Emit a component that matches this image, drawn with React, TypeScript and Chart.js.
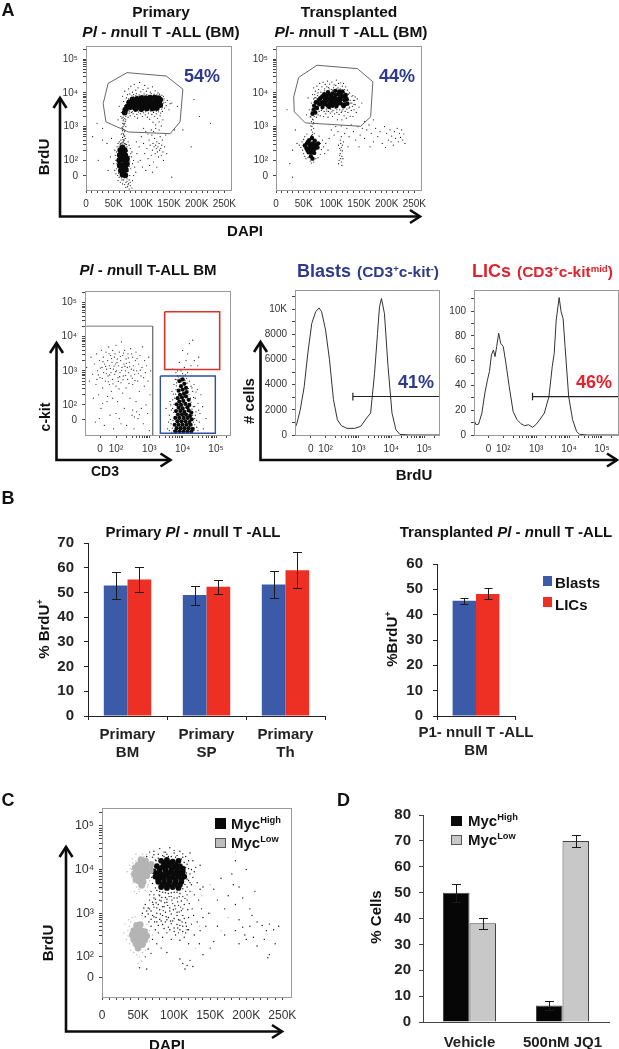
import React, { useEffect, useRef } from "react";
import { Chart, registerables } from "chart.js";
Chart.register(...registerables);

const FONT = "'Liberation Sans', Arial, sans-serif";
const BLUE = "#2e3a8c";
const RED = "#e2232e";

// ---------- bar data ----------
const primaryTissues = [["Primary", "BM"], ["Primary", "SP"], ["Primary", "Th"]];
const primaryBlasts = [52.8, 49, 53.2];
const primaryLics = [55.2, 52.3, 59];
const primaryBlastsErr = [[47.5, 58.1], [45, 52.7], [47.9, 58.5]];
const primaryLicsErr = [[50.2, 60.3], [49.5, 54.9], [51.8, 66.4]];
const transplantedTissue = [["P1- nnull T -ALL", "BM"]];
const transplantedBlasts = [45.5];
const transplantedLics = [48.2];
const transplantedBlastsErr = [[44.1, 46.7]];
const transplantedLicsErr = [[46.1, 50.7]];
const drugGroups = ["Vehicle", "500nM JQ1"];
const mycHigh = [50, 6.4];
const mycLow = [38.2, 70];
const mycHighErr = [[46.5, 53.5], [4.5, 8.3]];
const mycLowErr = [[36.1, 40.1], [67.7, 72.4]];

// ---------- axis ticks ----------
const dapiMajor = [0, 50, 100, 150, 200, 250];
const dapiLabels = ["0", "50K", "100K", "150K", "200K", "250K"];
const dapiMinor = [10, 20, 30, 40, 60, 70, 80, 90, 110, 120, 130, 140, 160, 170, 180, 190, 210, 220, 230, 240];
const logLabels = ["10²", "10³", "10⁴", "10⁵"];
const logMajor = [2, 3, 4, 5];
const logMinor = [2.3, 2.48, 2.6, 2.7, 2.78, 2.85, 2.9, 2.95, 3.3, 3.48, 3.6, 3.7, 3.78, 3.85, 3.9, 3.95, 4.3, 4.48, 4.6, 4.7, 4.78, 4.85, 4.9, 4.95, 5.3];

// ---------- gates ----------
const gateA1 = [74, 4.6, 145, 4.5, 175, 4.11, 170, 3.14, 152, 2.79, 77, 2.84, 36, 3.14, 31, 3.68, 40, 4.28, 74, 4.6];
const gateA2 = [74, 4.82, 147, 4.72, 175, 4.33, 171, 3.29, 153, 3.01, 53, 3.11, 33, 3.44, 32, 3.88, 41, 4.46, 74, 4.82];
const gateKitNeg = [1.0, 4.31, 3.1, 4.31, 3.1, 1.0];
const gateLic = [3.46, 4.73, 5.11, 4.73, 5.11, 3.04, 3.46, 3.04, 3.46, 4.73];
const gateBlast = [3.33, 2.85, 4.98, 2.85, 4.98, 1.17, 3.33, 1.17, 3.33, 2.85];

// ---------- histograms ----------
const blastsCurve = [1.07, 550, 1.13, 950, 1.23, 2000, 1.35, 3850, 1.46, 6500, 1.58, 8870, 1.7, 9800, 1.8, 10100, 1.88, 9800, 2, 8340, 2.12, 5970, 2.24, 2800, 2.36, 1210, 2.48, 740, 2.65, 530, 2.89, 530, 3.07, 690, 3.25, 1350, 3.37, 1740, 3.49, 4910, 3.58, 8080, 3.64, 10190, 3.7, 10850, 3.79, 9660, 3.9, 5440, 4.02, 1740, 4.14, 420, 4.26, 50, 4.56, 0, 5.45, 0];
const licsCurve = [1.11, 12.3, 1.17, 8.3, 1.25, 8.8, 1.35, 17.7, 1.44, 33.8, 1.52, 44.5, 1.58, 51.2, 1.64, 64.6, 1.7, 68.6, 1.75, 63.3, 1.8, 71.4, 1.86, 82.2, 1.92, 74.1, 2, 71.4, 2.08, 58, 2.18, 39.2, 2.3, 19, 2.42, 12.3, 2.54, 9.1, 2.65, 7.5, 2.77, 8.3, 2.89, 6.2, 2.99, 8.3, 3.11, 12.3, 3.25, 17.7, 3.39, 31, 3.49, 55.2, 3.55, 65.9, 3.61, 92.7, 3.7, 110.9, 3.76, 99.4, 3.82, 94, 3.88, 71.4, 3.99, 31, 4.11, 12.3, 4.23, 2.9, 4.32, 0.5, 4.56, 0, 5.49, 0];
const blastsMarker = [2.83, 3350, 2.83, 2750, 2.83, 3060, 5.45, 3060];
const licsMarker = [2.89, 34, 2.89, 28, 2.89, 31, 5.49, 31];

// ---------- A1 events (DAPI K, log10 BrdU) ----------
const a1Core = [70, 3.42, 72, 3.52, 75, 3.6, 78, 3.72, 80, 3.58, 84, 3.68, 87, 3.58, 90, 3.74, 93, 3.6, 96, 3.7, 99, 3.6, 102, 3.76, 105, 3.62, 108, 3.72, 111, 3.62, 114, 3.76, 117, 3.64, 120, 3.72, 123, 3.62, 126, 3.78, 129, 3.64, 132, 3.74, 134, 3.64, 134, 3.8, 84, 3.8, 92, 3.82, 100, 3.84, 108, 3.84, 116, 3.86, 124, 3.86, 131, 3.84, 90, 3.53, 100, 3.52, 110, 3.54, 120, 3.54, 128, 3.55, 62, 2.3, 66, 2.38, 70, 2.3, 61, 2.15, 66, 2.18, 71, 2.15, 60, 2.0, 65, 2.02, 70, 2.0, 74, 2.05, 61, 1.85, 66, 1.86, 71, 1.85, 74, 1.9, 63, 1.7, 68, 1.7, 72, 1.72, 66, 1.58, 71, 1.56];
const a1Dots = [63, 3.3, 66, 3.9, 68, 3.75, 70, 4.05, 72, 3.2, 73, 3.85, 75, 3.95, 76, 3.28, 77, 4.12, 78, 3.4, 79, 3.97, 80, 3.32, 81, 4.2, 82, 3.42, 83, 3.91, 84, 4.02, 85, 3.38, 86, 3.95, 87, 4.25, 88, 3.3, 89, 3.45, 90, 4.08, 91, 3.98, 92, 3.36, 93, 3.25, 94, 4.15, 95, 3.43, 96, 3.94, 97, 4.31, 98, 3.38, 99, 4.03, 100, 3.46, 101, 3.92, 102, 3.3, 103, 4.1, 104, 3.41, 105, 3.97, 106, 4.22, 107, 3.35, 108, 3.44, 109, 4.05, 110, 3.95, 111, 3.28, 112, 4.14, 113, 3.4, 114, 3.93, 115, 3.22, 116, 4.02, 117, 3.46, 118, 3.98, 119, 3.36, 120, 4.18, 121, 3.13, 122, 3.42, 123, 3.96, 124, 3.3, 125, 4.06, 126, 3.05, 127, 3.38, 128, 3.94, 129, 3.24, 130, 4.0, 131, 3.44, 132, 3.14, 133, 3.96, 134, 3.32, 135, 3.4, 136, 3.02, 137, 3.93, 138, 3.45, 139, 3.2, 140, 3.9, 142, 3.55, 143, 3.72, 145, 3.62, 147, 3.78, 150, 3.5, 152, 3.68, 60, 3.6, 58, 3.2,
  65, 3.25, 68, 3.2, 71, 3.15, 66, 3.1, 69, 3.05, 72, 3.0, 65, 2.98, 68, 2.92, 70, 2.85, 67, 2.8, 64, 2.78, 69, 2.72, 66, 2.68, 71, 2.65, 63, 2.6, 68, 2.58, 65, 2.52, 70, 2.5, 62, 2.48, 73, 2.47, 67, 3.0, 69, 2.9, 67, 2.62, 66, 2.88, 70, 3.1, 68, 2.76,
  52, 2.3, 54, 2.0, 50, 1.9, 55, 1.75, 53, 2.15, 56, 2.4, 57, 1.55, 54, 1.6, 52, 1.7, 58, 2.5, 60, 2.55, 80, 2.35, 82, 2.1, 84, 1.9, 81, 1.75, 79, 1.55, 83, 2.25, 86, 2.0, 88, 1.8, 78, 2.45, 76, 2.55, 58, 1.4, 62, 1.35, 66, 1.3, 70, 1.28, 74, 1.38, 77, 1.32, 80, 1.25, 83, 1.18, 78, 1.15, 75, 1.22, 72, 1.2, 68, 1.42, 64, 1.48, 84, 1.4, 86, 1.55, 90, 1.65, 92, 2.2, 94, 1.95, 96, 2.4, 91, 2.55, 44, 2.1, 40, 1.7, 38, 2.5, 30, 2.6, 46, 2.65,
  100, 2.7, 104, 2.5, 106, 2.2, 108, 2.85, 110, 2.35, 112, 2.05, 114, 2.6, 116, 2.45, 118, 2.15, 119, 2.75, 120, 2.3, 121, 2.5, 122, 1.95, 123, 2.4, 124, 2.65, 125, 2.2, 126, 2.45, 127, 2.35, 128, 2.55, 129, 2.25, 130, 2.4, 131, 2.1, 132, 2.5, 133, 2.3, 134, 2.7, 135, 2.35, 136, 2.15, 137, 2.45, 138, 2.6, 139, 2.25, 140, 2.0, 142, 2.4, 144, 2.75, 146, 2.2, 98, 2.0, 102, 1.8, 108, 1.7, 115, 1.85, 120, 1.65, 128, 1.8, 118, 2.9, 126, 2.95, 132, 2.9, 112, 2.78, 122, 2.85, 104, 2.95, 165, 3.6, 195, 3.8, 205, 3.3, 225, 3.1, 190, 2.4, 30, 2.95, 20, 3.1, 12, 2.7, 22, 2.0, 155, 1.5, 160, 2.9, 175, 2.9, 155, 3.7,
  72, 3.31, 88, 3.47, 105, 3.5, 121, 3.47, 97, 3.49, 131, 3.5, 76, 3.47, 113, 3.49, 84, 3.44, 127, 3.46, 93, 3.9, 74, 3.72, 108, 3.88, 125, 3.9, 81, 3.86, 136, 3.84, 99, 3.87, 118, 3.86, 140, 3.7, 138, 3.58, 141, 3.82, 68, 3.4, 66, 3.52, 70, 3.62, 67, 3.28, 73, 3.4, 69, 3.35, 64, 3.42, 90, 3.93, 103, 3.92, 115, 3.89, 129, 3.87, 86, 3.88, 77, 3.82, 134, 3.9, 110, 3.48, 101, 3.44, 79, 3.46, 95, 3.52, 124, 3.5, 137, 3.52, 139, 3.76, 67, 3.17, 70, 3.24, 68, 3.08, 66, 2.95, 70, 2.72, 69, 2.6, 67, 2.52,
  58, 2.2, 57, 2.05, 56, 1.9, 58, 1.8, 59, 1.62, 75, 2.28, 78, 2.12, 79, 1.98, 78, 1.82, 76, 1.68, 74, 1.55, 60, 2.42, 63, 2.5, 67, 2.55, 71, 2.48, 74, 2.4, 55, 2.25, 81, 2.2, 60, 1.5, 64, 1.55, 69, 1.48, 74, 1.45, 78, 1.42, 72, 1.35, 76, 1.28, 80, 1.35, 65, 1.42];

// ---------- A2 events ----------
const a2Core = [66, 3.38, 68, 3.5, 71, 3.42, 69, 3.62, 74, 3.55, 72, 3.72, 78, 3.66, 80, 3.84, 84, 3.58, 85, 3.74, 87, 3.96, 90, 3.66, 92, 3.84, 94, 4.02, 96, 3.58, 98, 3.76, 100, 3.94, 103, 3.68, 105, 3.86, 107, 4.06, 109, 3.6, 111, 3.78, 113, 3.96, 116, 3.7, 118, 3.88, 120, 4.04, 122, 3.6, 124, 3.78, 126, 3.94, 129, 3.68,
  75, 3.72, 78, 3.8, 82, 3.7, 88, 3.68, 91, 3.76, 94, 3.62, 97, 3.68, 100, 3.78, 102, 3.62, 106, 3.7, 108, 3.82, 112, 3.68, 114, 3.84, 117, 3.8, 120, 3.66, 122, 3.9, 125, 3.66, 126, 3.84, 128, 3.8, 90, 3.92, 96, 3.94, 102, 3.98, 108, 3.94, 114, 4.04, 118, 4.0, 83, 3.88, 88, 3.84, 94, 3.82, 100, 3.86, 106, 3.78,
  60, 2.6, 65, 2.66, 70, 2.58, 56, 2.5, 61, 2.48, 66, 2.5, 71, 2.46, 76, 2.5, 52, 2.44, 55, 2.36, 60, 2.36, 65, 2.36, 70, 2.34, 75, 2.38, 59, 2.24, 64, 2.24, 69, 2.22, 63, 2.12, 66, 2.05, 58, 2.55, 63, 2.42, 68, 2.42, 73, 2.42, 62, 2.3, 67, 2.28, 57, 2.3];
const a2Dots = [62, 3.3, 64, 3.7, 65, 3.5, 66, 3.95, 68, 4.15, 69, 3.3, 70, 3.85, 71, 4.05, 73, 3.28, 74, 4.2, 75, 3.92, 76, 3.35, 77, 4.1, 78, 3.45, 79, 4.28, 80, 3.32, 81, 4.02, 82, 3.48, 83, 4.18, 84, 3.9, 85, 4.32, 86, 3.3, 87, 3.45, 88, 4.12, 89, 4.25, 90, 3.38, 91, 3.52, 92, 4.18, 93, 4.35, 94, 3.28, 95, 3.45, 96, 4.12, 97, 4.26, 98, 3.4, 99, 3.52, 100, 4.1, 101, 4.32, 102, 3.3, 103, 3.48, 104, 4.15, 105, 4.24, 106, 3.38, 107, 3.55, 108, 4.22, 109, 4.38, 110, 3.42, 111, 3.2, 112, 4.15, 113, 4.28, 114, 3.36, 115, 3.5, 116, 4.12, 117, 4.3, 118, 3.42, 119, 3.2, 120, 4.2, 121, 3.5, 122, 4.28, 123, 3.32, 124, 4.1, 125, 3.45, 126, 4.18, 127, 3.25, 128, 3.9, 129, 4.08, 130, 3.42, 131, 3.8, 132, 3.55, 133, 4.0, 134, 3.3, 135, 3.7, 136, 3.48, 137, 3.9, 138, 3.6, 139, 3.3, 140, 3.78, 141, 3.5, 143, 3.65, 145, 3.42, 147, 3.82, 150, 3.58, 155, 3.7, 60, 3.5, 58, 3.85, 55, 3.35,
  63, 3.28, 66, 3.22, 64, 3.15, 67, 3.08, 65, 3.0, 68, 2.95, 64, 2.9, 66, 2.84, 68, 3.12, 63, 3.02, 66, 2.76, 69, 2.8, 64, 2.74, 67, 3.2,
  42, 2.45, 45, 2.38, 47, 2.55, 48, 2.3, 50, 2.2, 50, 2.62, 52, 2.7, 52, 2.12, 54, 2.05, 56, 2.78, 78, 2.72, 80, 2.5, 82, 2.32, 84, 2.6, 80, 2.18, 76, 2.08, 72, 2.05, 68, 1.95, 64, 1.92, 62, 1.98, 58, 2.08, 86, 2.4, 90, 2.5, 88, 2.2, 94, 2.3, 38, 2.5, 30, 2.3, 25, 1.9, 30, 1.5, 35, 2.9,
  113, 2.45, 115, 2.35, 117, 2.5, 116, 2.2, 118, 2.38, 119, 2.12, 120, 2.28, 117, 2.05, 114, 2.0, 118, 1.95, 120, 2.45, 116, 2.6, 113, 1.9, 119, 1.85, 115, 2.15, 121, 2.05, 117, 2.3, 122, 2.55, 118, 2.7,
  100, 2.9, 105, 2.75, 108, 3.0, 112, 2.85, 118, 3.02, 124, 2.8, 128, 2.95, 132, 2.7, 136, 3.05, 140, 2.85, 144, 2.6, 148, 3.0, 152, 2.75, 156, 2.95, 160, 2.65, 164, 2.9, 168, 3.05, 172, 2.8, 176, 2.55, 180, 2.95, 184, 2.7, 188, 2.85, 192, 2.5, 196, 3.0, 200, 2.8, 203, 2.6, 206, 2.9, 209, 2.72, 212, 2.45, 214, 2.85, 216, 2.65, 219, 2.95, 221, 2.55, 223, 2.8, 225, 2.68, 227, 2.9, 229, 2.6, 231, 2.78, 233, 2.5, 208, 2.55, 198, 2.38, 170, 2.4, 160, 3.15, 130, 2.4, 96, 2.65, 150, 2.4, 176, 3.2, 20, 3.5,
  83, 3.52, 92, 3.46, 101, 3.44, 110, 3.5, 119, 3.46, 128, 3.52, 76, 3.5, 72, 3.86, 76, 4.0, 82, 3.94, 88, 4.06, 95, 4.16, 102, 4.08, 110, 4.12, 116, 4.08, 124, 4.02, 131, 3.96, 134, 3.78, 133, 3.58, 130, 3.86, 137, 3.7, 70, 3.95, 74, 3.82, 68, 3.82, 66, 3.62, 64, 3.44, 139, 3.92, 141, 3.66, 142, 3.78, 143, 3.88];

// ---------- A3 events (log10 CD3, log10 c-kit) ----------
const a3Cloud = [1.12, 3.1, 1.2, 2.7, 1.25, 3.4, 1.3, 2.9, 1.32, 2.2, 1.35, 3.2, 1.38, 1.5, 1.4, 2.6, 1.42, 3.5, 1.45, 3.0, 1.48, 2.3, 1.5, 3.3, 1.52, 2.8, 1.55, 1.9, 1.56, 3.6, 1.58, 3.1, 1.6, 2.5, 1.62, 3.4, 1.63, 2.95, 1.65, 1.4, 1.66, 3.2, 1.68, 2.7, 1.7, 3.55, 1.72, 3.05, 1.73, 2.1, 1.75, 3.3, 1.76, 2.85, 1.78, 3.7, 1.8, 2.6, 1.8, 3.15, 1.82, 1.7, 1.84, 3.45, 1.85, 2.95, 1.86, 2.4, 1.88, 3.25, 1.9, 3.6, 1.9, 2.75, 1.92, 3.05, 1.93, 1.3, 1.95, 3.4, 1.96, 2.9, 1.98, 3.2, 2.0, 2.55, 2.0, 3.75, 2.02, 3.0, 2.04, 3.35, 2.05, 2.1, 2.06, 2.8, 2.08, 3.15, 2.1, 3.55, 2.1, 1.6, 2.12, 2.95, 2.14, 3.3, 2.15, 2.65, 2.16, 3.85, 2.18, 3.1, 2.2, 2.35, 2.2, 3.45, 2.22, 2.85, 2.24, 3.2, 2.25, 1.9, 2.26, 3.6, 2.28, 3.0, 2.3, 2.5, 2.3, 3.35, 2.32, 1.4, 2.34, 3.1, 2.35, 2.75, 2.36, 3.5, 2.38, 2.95, 2.4, 3.25, 2.42, 2.2, 2.44, 3.65, 2.45, 2.85, 2.46, 3.05, 2.48, 1.7, 2.5, 3.4, 2.5, 2.6, 2.52, 3.15, 2.54, 1.3, 2.56, 2.9, 2.58, 3.3, 2.6, 2.1, 2.6, 3.55, 2.62, 3.0, 2.65, 2.7, 2.66, 1.6, 2.68, 3.2, 2.7, 2.4, 2.72, 3.45, 2.75, 2.85, 2.76, 1.9, 2.78, 3.1, 2.8, 3.7, 2.82, 1.45, 2.85, 2.55, 2.86, 3.3, 2.88, 2.95, 2.9, 2.0, 2.92, 3.15, 2.95, 1.75, 2.96, 2.7, 2.98, 3.4, 3.0, 1.25, 3.02, 2.3, 3.04, 3.0, 2.5, 1.85, 2.55, 1.65, 2.62, 1.8, 2.7, 1.72, 1.75, 2.25, 1.9, 2.2, 1.6, 2.05, 1.5, 1.6, 2.15, 1.45, 2.0, 1.75,
  1.47, 2.88, 2.31, 3.22, 1.71, 2.92, 2.07, 2.69, 2.53, 3.02, 1.94, 3.14, 2.21, 2.74, 1.83, 3.07, 2.39, 2.63, 1.61, 3.27, 2.13, 3.42, 2.47, 3.5, 1.99, 2.98, 2.67, 2.93, 1.77, 2.68, 2.29, 2.87, 1.87, 3.36, 2.57, 2.72, 2.03, 3.24, 1.69, 3.13, 2.41, 3.12, 2.11, 2.83, 1.91, 2.62, 2.27, 3.13, 1.59, 2.78, 2.63, 3.36, 2.17, 3.01, 1.81, 2.88, 2.49, 2.78, 2.73, 3.02, 1.43, 2.75, 1.53, 3.08, 2.83, 2.8, 1.97, 3.5, 2.37, 3.38, 2.23, 3.52, 1.79, 3.5, 2.09, 2.47];
const a3Core = [3.9, 2.7, 4.0, 2.75, 4.05, 2.62, 3.95, 2.55, 4.1, 2.5, 3.88, 2.42, 4.0, 2.45, 4.12, 2.38, 3.92, 2.3, 4.04, 2.33, 3.85, 2.2, 3.98, 2.22, 4.1, 2.25, 4.18, 2.15, 3.9, 2.1, 4.02, 2.12, 3.82, 2.02, 3.95, 2.0, 4.08, 2.03, 4.2, 2.0, 3.88, 1.92, 4.0, 1.9, 4.14, 1.93, 3.8, 1.82, 3.93, 1.82, 4.05, 1.8, 4.18, 1.84, 4.26, 1.78, 3.86, 1.72, 3.98, 1.72, 4.1, 1.72, 4.22, 1.68, 3.78, 1.62, 3.9, 1.62, 4.03, 1.62, 4.15, 1.62, 4.27, 1.58, 3.84, 1.52, 3.96, 1.52, 4.08, 1.52, 4.2, 1.5, 3.76, 1.42, 3.88, 1.42, 4.0, 1.42, 4.12, 1.42, 4.24, 1.42, 3.82, 1.32, 3.94, 1.32, 4.06, 1.32, 4.18, 1.32, 4.3, 1.3, 3.78, 1.22, 3.9, 1.22, 4.02, 1.22, 4.14, 1.22, 4.26, 1.22];
const a3Halo = [3.55, 1.3, 3.6, 1.7, 3.62, 2.1, 3.65, 1.45, 3.68, 2.4, 3.7, 1.9, 3.72, 1.25, 3.74, 2.6, 3.75, 1.6, 3.76, 2.2, 3.78, 2.75, 3.8, 2.45, 3.82, 2.65, 3.84, 2.85, 3.7, 2.15, 3.66, 1.85, 3.58, 1.5, 3.5, 1.9, 4.3, 2.4, 4.32, 1.95, 4.34, 2.6, 4.36, 1.6, 4.38, 2.2, 4.4, 1.8, 4.42, 1.35, 4.44, 2.45, 4.46, 2.05, 4.5, 1.5, 4.52, 1.75, 4.55, 2.3, 4.6, 1.95, 4.62, 1.3, 4.7, 1.6, 4.25, 2.55, 4.2, 2.7, 4.12, 2.78, 3.95, 3.0, 4.05, 3.1, 4.1, 3.3, 4.15, 3.5, 4.2, 3.8, 4.3, 3.9, 4.35, 3.3, 3.85, 3.0, 3.7, 3.05, 4.0, 2.92, 4.45, 3.15, 3.9, 3.25, 4.0, 3.6, 4.25, 3.15, 4.48, 3.4, 3.8, 2.95, 4.15, 2.95, 4.08, 2.88, 3.92, 2.86,
  3.69, 1.32, 3.71, 1.55, 3.73, 1.78, 3.74, 2.02, 3.77, 1.28, 3.79, 2.32, 3.81, 2.56, 3.83, 2.74, 3.87, 2.82, 3.93, 2.78, 3.97, 2.68, 4.03, 2.85, 4.07, 2.72, 4.13, 2.64, 4.17, 2.48, 4.19, 2.3, 4.23, 2.2, 4.25, 2.08, 4.28, 1.88, 4.3, 1.7, 4.32, 1.5, 4.34, 1.26, 4.36, 1.42, 4.38, 1.7, 4.36, 1.96, 4.33, 2.22, 4.4, 2.38, 3.63, 1.58, 3.67, 1.2, 3.64, 2.0, 3.6, 1.25, 3.72, 2.32, 4.28, 2.5, 4.42, 1.55, 4.46, 1.25, 4.48, 1.85];

// ---------- C events ----------
const cHighCore = [82, 4.2, 90, 4.22, 98, 4.18, 106, 4.2, 76, 4.08, 84, 4.06, 92, 4.1, 100, 4.06, 108, 4.08, 72, 3.96, 80, 3.94, 88, 3.98, 96, 3.95, 104, 3.97, 112, 3.95, 74, 3.84, 82, 3.82, 90, 3.86, 98, 3.83, 106, 3.85, 114, 3.84, 78, 3.72, 86, 3.7, 94, 3.73, 102, 3.71, 110, 3.72, 82, 3.6, 90, 3.58, 98, 3.6, 106, 3.58,
  86, 4.14, 94, 4.14, 102, 4.12, 80, 4.02, 88, 4.04, 96, 4.02, 104, 4.02, 112, 4.02, 76, 3.9, 84, 3.88, 92, 3.92, 100, 3.9, 108, 3.91, 78, 3.78, 86, 3.77, 94, 3.79, 102, 3.77, 110, 3.78, 84, 3.65, 92, 3.65, 100, 3.65, 108, 3.65];
const cLowTopCore = [54, 4.22, 60, 4.2, 50, 4.1, 56, 4.08, 62, 4.1, 68, 4.12, 49, 3.98, 55, 3.96, 61, 3.98, 67, 3.97, 50, 3.86, 56, 3.84, 62, 3.86, 51, 3.74, 57, 3.72, 55, 3.64, 46, 4.04, 45, 3.9, 47, 3.78];
const cLowBottomCore = [48, 2.72, 53, 2.74, 44, 2.6, 49, 2.62, 54, 2.6, 59, 2.58, 42, 2.5, 47, 2.5, 52, 2.5, 57, 2.5, 62, 2.48, 44, 2.4, 49, 2.4, 54, 2.4, 59, 2.38, 47, 2.3, 52, 2.3, 56, 2.28, 50, 2.2];
const cHighDots = [62, 4.3, 66, 4.4, 70, 4.28, 72, 4.42, 75, 4.2, 78, 4.35, 80, 4.48, 84, 4.32, 86, 4.4, 90, 4.35, 94, 4.5, 96, 4.3, 100, 4.38, 104, 4.32, 108, 4.42, 112, 4.28, 116, 4.3, 118, 4.12, 120, 4.02, 122, 3.9, 120, 3.75, 124, 3.65, 118, 3.6, 116, 3.5, 122, 3.5, 126, 3.82, 128, 3.95, 132, 3.7, 136, 3.55, 128, 3.42, 134, 3.3, 140, 3.6, 126, 4.2, 122, 4.38, 136, 4.1, 130, 4.05,
  68, 3.5, 72, 3.42, 76, 3.52, 80, 3.4, 84, 3.48, 88, 3.36, 92, 3.45, 96, 3.38, 100, 3.48, 104, 3.35, 108, 3.45, 112, 3.38, 66, 3.3, 70, 3.25, 74, 3.32, 78, 3.2, 82, 3.28, 86, 3.15, 90, 3.25, 94, 3.12, 98, 3.22, 102, 3.1, 106, 3.18, 110, 3.06, 114, 3.2, 118, 3.3, 60, 3.2, 64, 3.12, 68, 3.05, 72, 3.14, 76, 3.0, 80, 3.08, 84, 2.95, 88, 3.02, 92, 2.9, 96, 2.98, 100, 2.88, 104, 2.95, 108, 2.84, 112, 2.95, 116, 2.78, 120, 2.9, 56, 3.0, 60, 2.92, 64, 2.98, 68, 2.86, 72, 2.92, 76, 2.8, 80, 2.86, 84, 2.74, 88, 2.8, 92, 2.68, 96, 2.76, 100, 2.66, 104, 2.74, 108, 2.62, 112, 2.7, 116, 2.55, 120, 2.62, 124, 2.75, 128, 2.5, 132, 2.8, 136, 2.6, 140, 2.9, 144, 2.7, 148, 3.0, 138, 3.1, 68, 2.7, 74, 2.62, 78, 2.55, 84, 2.45, 90, 2.55, 96, 2.4, 102, 2.5, 108, 2.38, 114, 2.45, 120, 2.3, 70, 2.4, 76, 2.3, 82, 2.2, 90, 2.1, 64, 2.18, 68, 2.08, 60, 2.0, 52, 1.75, 62, 1.72, 108, 1.95, 112, 1.85, 118, 1.8, 122, 1.92, 126, 1.78, 115, 1.72,
  155, 3.55, 160, 3.3, 165, 3.8, 170, 3.1, 175, 3.4, 180, 3.9, 182, 3.65, 185, 3.2, 190, 3.6, 195, 3.35, 200, 4.0, 205, 3.1, 208, 2.95, 212, 3.5, 185, 2.6, 190, 2.85, 195, 2.68, 198, 2.5, 205, 2.7, 210, 2.45, 215, 2.8, 222, 2.72, 228, 2.6, 232, 2.75, 238, 2.62, 245, 2.7, 240, 2.3, 232, 2.05, 230, 1.98, 225, 2.4, 215, 2.25, 200, 2.4, 190, 2.3, 170, 2.5, 155, 2.35, 150, 2.2, 185, 4.2, 160, 2.7, 135, 2.3, 140, 2.05,
  70, 4.15, 74, 4.22, 78, 4.26, 86, 4.3, 92, 4.3, 102, 4.28, 110, 4.24, 114, 4.16, 116, 4.05, 117, 3.92, 118, 3.78, 115, 3.66, 112, 3.56, 104, 3.48, 96, 3.47, 88, 3.47, 80, 3.5, 74, 3.58, 70, 3.68, 69, 3.82, 68, 3.95, 69, 4.05, 72, 4.34, 88, 4.4, 100, 4.44, 112, 4.36, 120, 4.2, 124, 4.0, 122, 3.7, 118, 3.42, 110, 3.28, 100, 3.35, 90, 3.32, 80, 3.3, 72, 3.35, 66, 3.42, 84, 3.15, 94, 3.05, 104, 3.02, 112, 3.1, 76, 3.12, 70, 2.95, 82, 2.82, 90, 2.85, 98, 2.82, 106, 2.85, 114, 2.88, 108, 2.72, 100, 2.58, 94, 2.62, 86, 2.65, 78, 2.72, 73, 2.8, 66, 3.1, 62, 3.05, 58, 3.12, 118, 2.62, 112, 2.58, 106, 2.55, 83, 3.36, 93, 3.38, 107, 3.38, 87, 3.24, 97, 3.3, 105, 3.26, 75, 3.24, 79, 3.42, 91, 3.18, 101, 3.17, 109, 3.14, 115, 3.34, 121, 3.22, 125, 3.1, 119, 3.08, 85, 3.06, 75, 2.9, 89, 2.92, 99, 3.08, 107, 3.03, 65, 2.8, 71, 3.2, 81, 2.98, 95, 2.82, 111, 2.8, 105, 2.66, 117, 2.7, 127, 2.95];
const cLowDots = [38, 4.1, 40, 3.9, 42, 4.25, 43, 3.7, 44, 4.05, 45, 3.5, 46, 3.85, 47, 4.35, 48, 3.6, 52, 3.5, 56, 4.35, 60, 3.52, 62, 4.35, 64, 3.65, 70, 4.3, 35, 3.95, 30, 2.55, 32, 2.75, 34, 2.4, 36, 2.6, 37, 2.85, 38, 2.3, 40, 2.8, 40, 2.15, 42, 2.9, 44, 2.1, 46, 2.92, 48, 2.05, 52, 2.0, 55, 2.95, 56, 2.1, 60, 2.15, 62, 2.75, 66, 2.6, 66, 2.35, 70, 2.5, 50, 1.85, 55, 1.9, 130, 2.2, 135, 2.7, 150, 3.0, 165, 2.6, 125, 3.5, 138, 3.4, 150, 3.65, 185, 4.4, 175, 2.9,
  41, 4.0, 43, 4.15, 45, 3.95, 44, 3.8, 46, 3.7, 47, 4.2, 41, 3.82, 39, 4.02, 48, 3.45, 51, 3.55, 53, 4.3, 58, 4.3, 64, 4.22, 66, 3.75, 63, 3.6, 36, 2.48, 38, 2.7, 39, 2.55, 41, 2.36, 60, 2.28, 63, 2.62, 64, 2.42];

const pts = (flat: number[]) => {
  const out: { x: number; y: number }[] = [];
  for (let i = 0; i + 1 < flat.length; i += 2) out.push({ x: flat[i], y: flat[i + 1] });
  return out;
};

type Rect = { l: number; t: number; r: number; b: number };

const marginL = 56;
const marginT = 8;
const marginR = 40;
const marginB = 56;

const frameBox = (p: Rect) => ({
  left: p.l - marginL,
  top: p.t - marginT,
  width: p.r - p.l + marginL + marginR,
  height: p.b - p.t + marginT + marginB,
});

function baseOptions(x: any, y: any) {
  const noPad = (s: any) => {
    s.paddingLeft = 0;
    s.paddingRight = 0;
    s.paddingTop = 0;
    s.paddingBottom = 0;
  };
  return {
    responsive: false,
    animation: false,
    maintainAspectRatio: false,
    layout: { autoPadding: false, padding: { top: marginT, right: marginR, left: 0, bottom: 0 } },
    plugins: { legend: { display: false }, title: { display: false }, tooltip: { enabled: false } },
    scales: {
      x: { ...x, afterFit: (s: any) => { s.height = marginB; noPad(s); } },
      y: { ...y, afterFit: (s: any) => { s.width = marginL; noPad(s); } },
    },
  };
}

function flowAxis(min: number, max: number, major: number[], minor: number[], labels: string[], fontSize: number, pad: number) {
  return {
    type: "linear",
    min,
    max,
    afterBuildTicks: (s: any) => {
      s.ticks = [...major, ...minor].sort((a, b) => a - b).map((value) => ({ value }));
    },
    ticks: {
      autoSkip: false,
      maxRotation: 0,
      padding: pad,
      color: "#333",
      font: { family: FONT, size: fontSize },
      callback: (v: number) => {
        const i = major.indexOf(v);
        return i >= 0 ? labels[i] : "";
      },
    },
    grid: { drawOnChartArea: false, tickLength: 3, color: "#444", tickWidth: 1 },
    border: { color: "#888" },
  };
}

const framePlugin = (color: string) => ({
  id: "frame",
  afterDatasetsDraw(chart: any) {
    const { ctx, chartArea: a } = chart;
    ctx.save();
    ctx.strokeStyle = color;
    ctx.lineWidth = 1;
    ctx.strokeRect(Math.round(a.left) + 0.5, Math.round(a.top) + 0.5, Math.round(a.right - a.left), Math.round(a.bottom - a.top));
    ctx.restore();
  },
});

const errorPlugin = (errs: number[][][], capHalf: number) => ({
  id: "errors",
  afterDatasetsDraw(chart: any) {
    const { ctx } = chart;
    const yS = chart.scales.y;
    ctx.save();
    ctx.strokeStyle = "#1a1a1a";
    ctx.lineWidth = 1;
    errs.forEach((set, d) => {
      const meta = chart.getDatasetMeta(d);
      set.forEach(([lo, hi], i) => {
        const x = Math.round(meta.data[i].x) + 0.5;
        const y0 = Math.round(yS.getPixelForValue(lo)) + 0.5;
        const y1 = Math.round(yS.getPixelForValue(hi)) + 0.5;
        ctx.beginPath();
        ctx.moveTo(x, y0);
        ctx.lineTo(x, y1);
        ctx.moveTo(x - capHalf, y0);
        ctx.lineTo(x + capHalf, y0);
        ctx.moveTo(x - capHalf, y1);
        ctx.lineTo(x + capHalf, y1);
        ctx.stroke();
      });
    });
    ctx.restore();
  },
});

const dots = (flat: number[], color = "#111", radius = 0.6, order = 2) => ({
  data: pts(flat),
  backgroundColor: color,
  pointRadius: radius,
  borderWidth: 0,
  pointBorderWidth: 0,
  order,
});
const line = (flat: number[], color = "#666", width = 1) => ({
  data: pts(flat),
  showLine: true,
  tension: 0,
  pointRadius: 0,
  borderColor: color,
  borderWidth: width,
  fill: false,
  order: 0,
});

const barAxisX = (labels: any, pad: number, color = "#222", tick = 4) => ({
  type: "category",
  labels,
  ticks: { color: "#222", padding: pad, maxRotation: 0, font: { family: FONT, size: 15, weight: "bold" } },
  grid: { drawOnChartArea: false, tickLength: tick, color, offset: true },
  border: { color, width: 1 },
});
const barAxisY = (max: number, step: number, color = "#222", pad = 10) => ({
  type: "linear",
  min: 0,
  max,
  ticks: { stepSize: step, color: "#222", padding: pad, font: { family: FONT, size: 15, weight: "bold" } },
  grid: { drawOnChartArea: false, tickLength: 4, color },
  border: { color, width: 1 },
});

const bar = (data: number[], color: string, border?: string, cat = 0.6) => ({
  data,
  backgroundColor: color,
  borderColor: border ?? color,
  borderWidth: border ? 1 : 0,
  categoryPercentage: cat,
  barPercentage: 1,
});

type Spec = { rect: Rect; config: () => any };

const flowDapi = (datasets: any[], size = 10, pad = 5, ymin = 1.12, ymax = 5.39, zero = 1.54, ySize = 10) => ({
  type: "scatter",
  data: { datasets },
  options: baseOptions(
    flowAxis(0, 262, dapiMajor, dapiMinor, dapiLabels, size, pad),
    flowAxis(ymin, ymax, [zero, ...logMajor], logMinor, ["0", ...logLabels], ySize, 5)
  ),
  plugins: [framePlugin("#999")],
});

const specs: Spec[] = [
  {
    rect: { l: 86, t: 46, r: 231, b: 190 },
    config: () => flowDapi([line(gateA1), dots(a1Core, "#0a0a0a", 2.9), dots(a1Dots)]),
  },
  {
    rect: { l: 276, t: 46, r: 421, b: 190 },
    config: () => flowDapi([line(gateA2), dots(a2Core, "#0a0a0a", 2.2), dots(a2Dots)]),
  },
  {
    rect: { l: 85, t: 291, r: 230, b: 435 },
    config: () => ({
      type: "scatter",
      data: {
        datasets: [
          line(gateKitNeg, "#777"),
          line(gateLic, "#d9342b", 1.6),
          line(gateBlast, "#2f4fa0", 1.4),
          dots(a3Core, "#0a0a0a", 2.1),
          dots(a3Halo),
          dots(a3Cloud, "#222", 0.6),
        ],
      },
      options: baseOptions(
        flowAxis(1.07, 5.42, [1.52, ...logMajor], logMinor, ["0", ...logLabels], 10, 5),
        flowAxis(1.12, 5.34, [1.56, ...logMajor], logMinor, ["0", ...logLabels], 10, 5)
      ),
      plugins: [framePlugin("#999")],
    }),
  },
  {
    rect: { l: 295, t: 290, r: 439, b: 435 },
    config: () => ({
      type: "scatter",
      data: { datasets: [line(blastsMarker, "#222", 1.2), line(blastsCurve, "#333", 1)] },
      options: baseOptions(
        flowAxis(1.07, 5.45, [1.55, ...logMajor], logMinor, ["0", ...logLabels], 10, 5),
        flowAxis(0, 11525, [0, 2000, 4000, 6000, 8000, 10000], [1000, 3000, 5000, 7000, 9000, 11000], ["0", "2000", "4000", "6000", "8000", "10K"], 10, 5)
      ),
      plugins: [framePlugin("#999")],
    }),
  },
  {
    rect: { l: 474, t: 290, r: 618, b: 435 },
    config: () => ({
      type: "scatter",
      data: { datasets: [line(licsMarker, "#222", 1.2), line(licsCurve, "#333", 1)] },
      options: baseOptions(
        flowAxis(1.11, 5.49, [1.55, ...logMajor], logMinor, ["0", ...logLabels], 10, 5),
        flowAxis(0, 117, [0, 20, 40, 60, 80, 100], [10, 30, 50, 70, 90, 110], ["0", "20", "40", "60", "80", "100"], 10, 5)
      ),
      plugins: [framePlugin("#999")],
    }),
  },
  {
    rect: { l: 88, t: 543, r: 325, b: 716 },
    config: () => ({
      type: "bar",
      data: { labels: primaryTissues, datasets: [bar(primaryBlasts, "#3b5aa8"), bar(primaryLics, "#ee3024")] },
      options: baseOptions(barAxisX(primaryTissues, 6), barAxisY(70, 10)),
      plugins: [errorPlugin([primaryBlastsErr, primaryLicsErr], 4.5)],
    }),
  },
  {
    rect: { l: 437, t: 564, r: 515, b: 716 },
    config: () => ({
      type: "bar",
      data: { labels: transplantedTissue, datasets: [bar(transplantedBlasts, "#3b5aa8"), bar(transplantedLics, "#ee3024")] },
      options: baseOptions(barAxisX(transplantedTissue, 4), barAxisY(60, 10)),
      plugins: [errorPlugin([transplantedBlastsErr, transplantedLicsErr], 4)],
    }),
  },
  {
    rect: { l: 102, t: 808, r: 291, b: 997 },
    config: () =>
      flowDapi(
        [
          dots(cLowBottomCore, "#b4b4b4", 3.4, 0),
          dots(cLowTopCore, "#b4b4b4", 3.4, 0),
          dots(cLowDots, "#bdbdbd", 0.7, 1),
          dots(cHighCore, "#0a0a0a", 2.9, 2),
          dots(cHighDots, "#111", 0.7, 2),
        ],
        12,
        8,
        1.08,
        5.41,
        1.53,
        12.5
      ),
  },
  {
    rect: { l: 423, t: 815, r: 609, b: 1022 },
    config: () => ({
      type: "bar",
      data: { labels: drugGroups, datasets: [bar(mycHigh, "#060606", "#444", 0.57), bar(mycLow, "#c8c8c8", "#444", 0.57)] },
      options: baseOptions(barAxisX(drugGroups, 12, "#444", 0), barAxisY(80, 10, "#444", 8)),
      plugins: [errorPlugin([mycHighErr, mycLowErr], 4.5)],
    }),
  },
];

function Plot({ spec }: { spec: Spec }) {
  const ref = useRef<HTMLCanvasElement>(null);
  const box = frameBox(spec.rect);
  useEffect(() => {
    const chart = new Chart(ref.current as HTMLCanvasElement, spec.config());
    return () => chart.destroy();
  }, [spec]);
  return (
    <canvas
      ref={ref}
      width={box.width}
      height={box.height}
      style={{ position: "absolute", left: box.left, top: box.top, width: box.width, height: box.height }}
    />
  );
}

function T({ x, y, size = 15, color = "#111", weight = "bold", rotate = false, anchor = "middle", children }: any) {
  const tx = anchor === "start" ? "0" : "-50%";
  return (
    <div
      style={{
        position: "absolute",
        left: x,
        top: y,
        transform: `translate(${tx}, -50%)${rotate ? " rotate(-90deg)" : ""}`,
        fontFamily: FONT,
        fontSize: size,
        fontWeight: weight as any,
        color,
        whiteSpace: "nowrap",
        lineHeight: 1,
      }}
    >
      {children}
    </div>
  );
}

const Sup = ({ children }: any) => <sup style={{ fontSize: "0.62em", verticalAlign: "0.55em", lineHeight: 0 }}>{children}</sup>;

function Swatch({ x, y, w, h, color, border }: any) {
  return <div style={{ position: "absolute", left: x, top: y, width: w, height: h, background: color, border: border ? `1px solid ${border}` : undefined, boxSizing: "border-box" }} />;
}

function Arrows() {
  const paths = [
    [60, 98, 60, 216.5, 420, 216.5],
    [56.5, 343, 56.5, 460, 170.5, 460],
    [260.5, 342, 260.5, 460, 617, 460],
    [66, 847, 66, 1031.5, 282, 1031.5],
  ];
  return (
    <svg width={619} height={1049} style={{ position: "absolute", left: 0, top: 0, pointerEvents: "none" }}>
      {paths.map((p, i) => (
        <g key={i} fill="none" stroke="#0c0c0c" strokeWidth={2.6}>
          <polyline points={`${p[0]},${p[1]} ${p[2]},${p[3]} ${p[4]},${p[5]}`} />
          <polyline points={`${p[0] - 6.5},${p[1] + 10} ${p[0]},${p[1]} ${p[0] + 6.5},${p[1] + 10}`} />
          <polyline points={`${p[4] - 10},${p[5] - 6.5} ${p[4]},${p[5]} ${p[4] - 10},${p[5] + 6.5}`} />
        </g>
      ))}
    </svg>
  );
}

export default function App() {
  return (
    <div style={{ position: "absolute", left: 0, top: 0, width: 619, height: 1049, background: "#fff", overflow: "hidden" }}>
      {specs.map((s, i) => (
        <Plot key={i} spec={s} />
      ))}
      <Arrows />

      <T x={8} y={10} size={18}>A</T>
      <T x={161} y={12} size={15.5}>Primary</T>
      <T x={161} y={32} size={15.5}><i>Pl</i> - <i>n</i>null T -ALL (BM)</T>
      <T x={349} y={12} size={15.5}>Transplanted</T>
      <T x={351} y={32} size={15.5}><i>Pl</i>- <i>n</i>null T -ALL (BM)</T>
      <T x={202} y={76} size={18} color={BLUE}>54%</T>
      <T x={397} y={76} size={18} color={BLUE}>44%</T>
      <T x={43} y={157} rotate>BrdU</T>
      <T x={245} y={230}>DAPI</T>

      <T x={148} y={269}><i>Pl</i> - <i>n</i>null T-ALL BM</T>
      <T x={297} y={271} size={18} color={BLUE} anchor="start">Blasts</T>
      <T x={357} y={272} size={15.5} color={BLUE} anchor="start">(CD3<Sup>+</Sup>c-kit<Sup>-</Sup>)</T>
      <T x={472} y={271} size={18} color={RED} anchor="start">LICs</T>
      <T x={517} y={272} size={15.5} color={RED} anchor="start">(CD3<Sup>+</Sup>c-kit<Sup>mid</Sup>)</T>
      <T x={416} y={382} size={18} color={BLUE}>41%</T>
      <T x={594} y={382} size={18} color={RED}>46%</T>
      <T x={45} y={417} size={14} rotate>c-kit</T>
      <T x={105} y={471} size={14}>CD3</T>
      <T x={248} y={401} rotate># cells</T>
      <T x={414} y={474}>BrdU</T>

      <T x={8} y={498} size={18}>B</T>
      <T x={193} y={531}>Primary <i>Pl</i> - <i>n</i>null T -ALL</T>
      <T x={506} y={531}>Transplanted <i>Pl</i> - <i>n</i>null T -ALL</T>
      <T x={43} y={629} rotate>% BrdU<Sup>+</Sup></T>
      <T x={391} y={639} rotate>%BrdU<Sup>+</Sup></T>
      <Swatch x={543} y={576} w={9} h={10} color="#3b5aa8" />
      <Swatch x={543} y={597} w={9} h={10} color="#ee3024" />
      <T x={555} y={582} anchor="start">Blasts</T>
      <T x={555} y={604} anchor="start">LICs</T>

      <T x={8} y={800} size={18}>C</T>
      <T x={337} y={800} size={18} anchor="start">D</T>
      <T x={47} y={943} rotate>BrdU</T>
      <T x={167} y={1044}>DAPI</T>
      <T x={375} y={917} rotate>% Cells</T>
      <Swatch x={215} y={818} w={11} h={11} color="#0a0a0a" />
      <Swatch x={215} y={838} w={11} h={10} color="#bdbdbd" border="#555" />
      <T x={231} y={823} anchor="start">Myc<Sup>High</Sup></T>
      <T x={231} y={842} anchor="start">Myc<Sup>Low</Sup></T>
      <Swatch x={451} y={816} w={11} h={10} color="#0a0a0a" />
      <Swatch x={451} y={835} w={11} h={10} color="#c8c8c8" border="#555" />
      <T x={468} y={820} anchor="start">Myc<Sup>High</Sup></T>
      <T x={468} y={839} anchor="start">Myc<Sup>Low</Sup></T>
    </div>
  );
}
